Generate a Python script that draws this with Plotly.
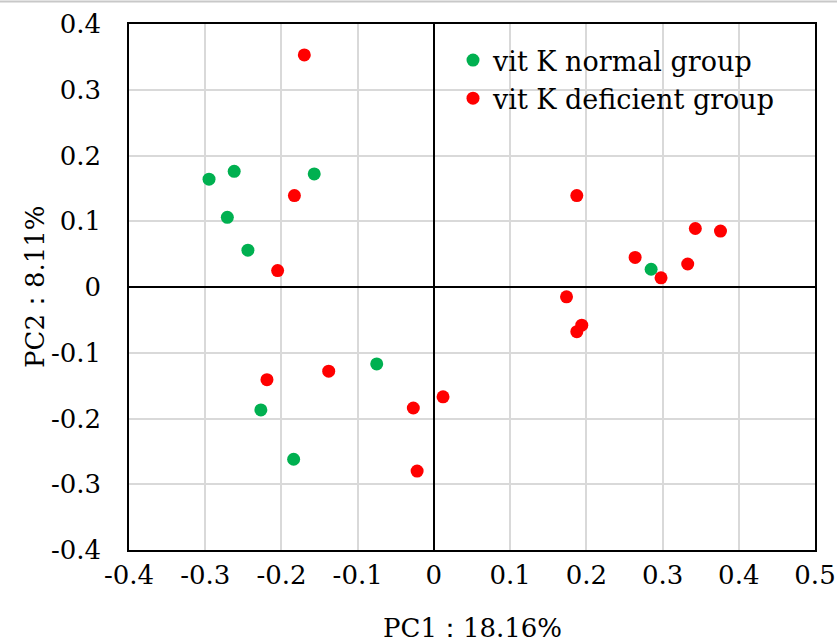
import plotly.graph_objects as go

normal_x = [-0.295, -0.262, -0.271, -0.244, -0.157, -0.075, -0.227, -0.184, 0.285]
normal_y = [0.164, 0.176, 0.106, 0.056, 0.172, -0.117, -0.187, -0.262, 0.027]

deficient_x = [-0.170, -0.183, -0.205, -0.219, -0.138, -0.027, 0.012, -0.022,
               0.1875, 0.343, 0.376, 0.264, 0.298, 0.333, 0.174, 0.194, 0.1875]
deficient_y = [0.353, 0.139, 0.025, -0.141, -0.128, -0.184, -0.167, -0.280,
               0.139, 0.089, 0.085, 0.045, 0.014, 0.035, -0.015, -0.058, -0.068]

tick_vals_x = [-0.4, -0.3, -0.2, -0.1, 0, 0.1, 0.2, 0.3, 0.4, 0.5]
tick_text_x = ["-0.4", "-0.3", "-0.2", "-0.1", "0", "0.1", "0.2", "0.3", "0.4", "0.5"]
tick_vals_y = [-0.4, -0.3, -0.2, -0.1, 0, 0.1, 0.2, 0.3, 0.4]
tick_text_y = ["-0.4", "-0.3", "-0.2", "-0.1", "0", "0.1", "0.2", "0.3", "0.4"]

FONT = "DejaVu Serif"

fig = go.Figure()
fig.add_trace(go.Scatter(x=normal_x, y=normal_y, mode="markers", name="vit K normal group",
                         marker=dict(color="#00B050", size=13)))
fig.add_trace(go.Scatter(x=deficient_x, y=deficient_y, mode="markers", name="vit K deficient group",
                         marker=dict(color="#FF0000", size=13)))

L, R, T, B = 129, 22, 24, 93
W, H = 837, 643
pw, ph = W - L - R, H - T - B

fig.update_layout(
    width=W, height=H,
    margin=dict(l=L, r=R, t=T, b=B, pad=0, autoexpand=False),
    plot_bgcolor="white", paper_bgcolor="white",
    font=dict(family=FONT, size=26, color="black"),
    showlegend=True,
    legend=dict(x=(453 - L) / pw, y=1 - (36 - T) / ph, xanchor="left", yanchor="top",
                bgcolor="rgba(0,0,0,0)", font=dict(size=27, family=FONT),
                itemwidth=30, tracegroupgap=0),
    xaxis=dict(range=[-0.4, 0.5], tickvals=tick_vals_x, ticktext=tick_text_x,
               showgrid=True, gridcolor="#d9d9d9", gridwidth=1.5,
               zeroline=True, zerolinecolor="black", zerolinewidth=1.5,
               showline=True, linecolor="black", linewidth=1.5, mirror=True,
               ticks="", ticklabelstandoff=1, automargin=False, fixedrange=True),
    yaxis=dict(range=[-0.4, 0.4], tickvals=tick_vals_y, ticktext=tick_text_y,
               showgrid=True, gridcolor="#d9d9d9", gridwidth=1.5,
               zeroline=True, zerolinecolor="black", zerolinewidth=1.5,
               showline=True, linecolor="black", linewidth=1.5, mirror=True,
               ticks="", ticklabelstandoff=21, automargin=False, fixedrange=True),
    annotations=[
        dict(text="PC1：18.16%", xref="paper", yref="paper",
             x=0.5, y=1 - (628 - T) / ph, xanchor="center", yanchor="middle",
             showarrow=False, font=dict(size=26, family=FONT)),
        dict(text="PC2：8.11%", xref="paper", yref="paper",
             x=-(L - 35) / pw, y=0.5, xanchor="center", yanchor="middle",
             textangle=-90, showarrow=False, font=dict(size=26, family=FONT)),
    ],
    shapes=[dict(type="line", xref="paper", yref="paper",
                 x0=-L / pw, x1=(W - L) / pw, y0=1 + (T - 1.5) / ph, y1=1 + (T - 1.5) / ph,
                 line=dict(color="#c8c8c8", width=2))],
)

fig.write_html("out.html", config={"displayModeBar": False},
               post_script="document.body.style.margin='0';document.body.style.overflow='hidden';")
